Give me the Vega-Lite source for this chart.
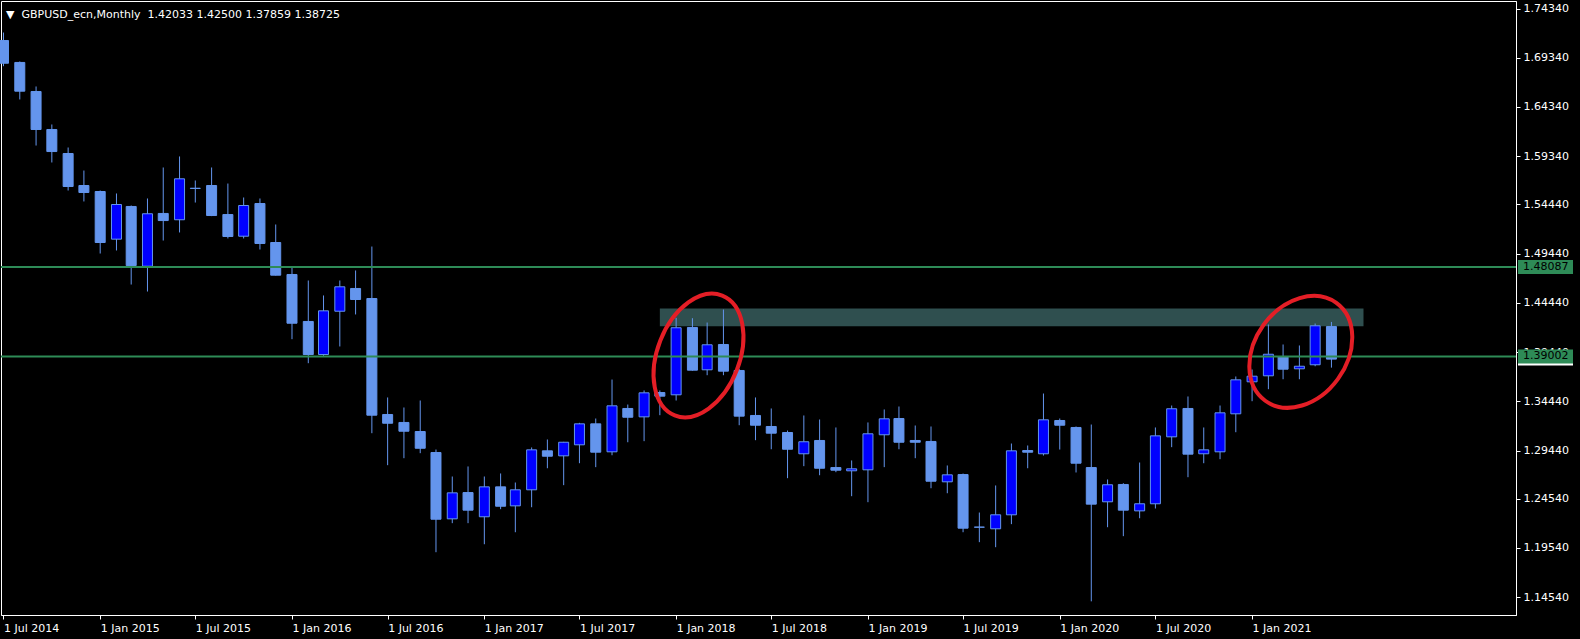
{
  "$schema": "https://vega.github.io/schema/vega-lite/v6.json",
  "width": 1515,
  "height": 614,
  "autosize": {"type": "none"},
  "padding": {"left": 1, "top": 1, "right": 64, "bottom": 24},
  "background": "#000000",
  "title": {
    "text": "▼ \u00a0GBPUSD_ecn,Monthly \u00a01.42033 1.42500 1.37859 1.38725",
    "anchor": "start", "frame": "group", "orient": "top", "offset": 0,
    "dx": 5, "dy": 28, "baseline": "alphabetic",
    "font": "DejaVu Sans", "fontSize": 11, "fontWeight": "normal", "color": "#ffffff"
  },
  "config": {
    "view": {"stroke": "#ffffff", "strokeWidth": 1},
    "axis": {"labelColor": "#ffffff", "tickColor": "#ffffff", "domainColor": "#ffffff", "labelFont": "DejaVu Sans", "labelFontSize": 11, "grid": false, "title": null, "labelOverlap": false, "labelFlush": false}
  },
  "datasets": {
    "candles": [
      {"date": "2014-07-01", "open": 1.7109, "high": 1.7190, "low": 1.6848, "close": 1.6878},
      {"date": "2014-08-01", "open": 1.6886, "high": 1.6896, "low": 1.6510, "close": 1.6594},
      {"date": "2014-09-01", "open": 1.6591, "high": 1.6642, "low": 1.6042, "close": 1.6205},
      {"date": "2014-10-01", "open": 1.6205, "high": 1.6256, "low": 1.5870, "close": 1.5981},
      {"date": "2014-11-01", "open": 1.5961, "high": 1.6022, "low": 1.5585, "close": 1.5626},
      {"date": "2014-12-01", "open": 1.5636, "high": 1.5788, "low": 1.5474, "close": 1.5565},
      {"date": "2015-01-01", "open": 1.5575, "high": 1.5585, "low": 1.4945, "close": 1.5057},
      {"date": "2015-02-01", "open": 1.5091, "high": 1.5555, "low": 1.4976, "close": 1.5443},
      {"date": "2015-03-01", "open": 1.5423, "high": 1.5433, "low": 1.4630, "close": 1.4823},
      {"date": "2015-04-01", "open": 1.4816, "high": 1.5504, "low": 1.4559, "close": 1.5349},
      {"date": "2015-05-01", "open": 1.5352, "high": 1.5819, "low": 1.5077, "close": 1.5280},
      {"date": "2015-06-01", "open": 1.5288, "high": 1.5931, "low": 1.5159, "close": 1.5704},
      {"date": "2015-07-01", "open": 1.5608, "high": 1.5687, "low": 1.5463, "close": 1.5606},
      {"date": "2015-08-01", "open": 1.5636, "high": 1.5819, "low": 1.5325, "close": 1.5331},
      {"date": "2015-09-01", "open": 1.5341, "high": 1.5656, "low": 1.5098, "close": 1.5118},
      {"date": "2015-10-01", "open": 1.5121, "high": 1.5514, "low": 1.5098, "close": 1.5433},
      {"date": "2015-11-01", "open": 1.5453, "high": 1.5504, "low": 1.4986, "close": 1.5047},
      {"date": "2015-12-01", "open": 1.5057, "high": 1.5240, "low": 1.4722, "close": 1.4725},
      {"date": "2016-01-01", "open": 1.4732, "high": 1.4806, "low": 1.4075, "close": 1.4237},
      {"date": "2016-02-01", "open": 1.4255, "high": 1.4671, "low": 1.3831, "close": 1.3919},
      {"date": "2016-03-01", "open": 1.3919, "high": 1.4519, "low": 1.3905, "close": 1.4363},
      {"date": "2016-04-01", "open": 1.4359, "high": 1.4671, "low": 1.4001, "close": 1.4607},
      {"date": "2016-05-01", "open": 1.4590, "high": 1.4773, "low": 1.4326, "close": 1.4478},
      {"date": "2016-06-01", "open": 1.4488, "high": 1.5016, "low": 1.3120, "close": 1.3303},
      {"date": "2016-07-01", "open": 1.3310, "high": 1.3483, "low": 1.2795, "close": 1.3221},
      {"date": "2016-08-01", "open": 1.3229, "high": 1.3381, "low": 1.2866, "close": 1.3140},
      {"date": "2016-09-01", "open": 1.3137, "high": 1.3452, "low": 1.2917, "close": 1.2967},
      {"date": "2016-10-01", "open": 1.2924, "high": 1.2954, "low": 1.1911, "close": 1.2246},
      {"date": "2016-11-01", "open": 1.2250, "high": 1.2680, "low": 1.2206, "close": 1.2514},
      {"date": "2016-12-01", "open": 1.2517, "high": 1.2782, "low": 1.2206, "close": 1.2338},
      {"date": "2017-01-01", "open": 1.2271, "high": 1.2680, "low": 1.1992, "close": 1.2575},
      {"date": "2017-02-01", "open": 1.2575, "high": 1.2711, "low": 1.2348, "close": 1.2378},
      {"date": "2017-03-01", "open": 1.2382, "high": 1.2619, "low": 1.2114, "close": 1.2545},
      {"date": "2017-04-01", "open": 1.2545, "high": 1.2975, "low": 1.2368, "close": 1.2951},
      {"date": "2017-05-01", "open": 1.2941, "high": 1.3056, "low": 1.2764, "close": 1.2886},
      {"date": "2017-06-01", "open": 1.2890, "high": 1.3032, "low": 1.2592, "close": 1.3028},
      {"date": "2017-07-01", "open": 1.3002, "high": 1.3225, "low": 1.2815, "close": 1.3215},
      {"date": "2017-08-01", "open": 1.3215, "high": 1.3269, "low": 1.2775, "close": 1.2927},
      {"date": "2017-09-01", "open": 1.2931, "high": 1.3665, "low": 1.2896, "close": 1.3398},
      {"date": "2017-10-01", "open": 1.3371, "high": 1.3411, "low": 1.3028, "close": 1.3282},
      {"date": "2017-11-01", "open": 1.3286, "high": 1.3554, "low": 1.3039, "close": 1.3530},
      {"date": "2017-12-01", "open": 1.3533, "high": 1.3554, "low": 1.3303, "close": 1.3496},
      {"date": "2018-01-01", "open": 1.3510, "high": 1.4292, "low": 1.3452, "close": 1.4191},
      {"date": "2018-02-01", "open": 1.4194, "high": 1.4288, "low": 1.3755, "close": 1.3760},
      {"date": "2018-03-01", "open": 1.3764, "high": 1.4244, "low": 1.3709, "close": 1.4018},
      {"date": "2018-04-01", "open": 1.4021, "high": 1.4376, "low": 1.3709, "close": 1.3750},
      {"date": "2018-05-01", "open": 1.3757, "high": 1.3774, "low": 1.3201, "close": 1.3293},
      {"date": "2018-06-01", "open": 1.3300, "high": 1.3483, "low": 1.3049, "close": 1.3201},
      {"date": "2018-07-01", "open": 1.3188, "high": 1.3371, "low": 1.2957, "close": 1.3120},
      {"date": "2018-08-01", "open": 1.3127, "high": 1.3147, "low": 1.2663, "close": 1.2957},
      {"date": "2018-09-01", "open": 1.2911, "high": 1.3300, "low": 1.2785, "close": 1.3033},
      {"date": "2018-10-01", "open": 1.3046, "high": 1.3259, "low": 1.2693, "close": 1.2764},
      {"date": "2018-11-01", "open": 1.2771, "high": 1.3178, "low": 1.2724, "close": 1.2744},
      {"date": "2018-12-01", "open": 1.2738, "high": 1.2843, "low": 1.2480, "close": 1.2758},
      {"date": "2019-01-01", "open": 1.2748, "high": 1.3229, "low": 1.2419, "close": 1.3114},
      {"date": "2019-02-01", "open": 1.3104, "high": 1.3361, "low": 1.2775, "close": 1.3266},
      {"date": "2019-03-01", "open": 1.3269, "high": 1.3391, "low": 1.2957, "close": 1.3028},
      {"date": "2019-04-01", "open": 1.3046, "high": 1.3198, "low": 1.2866, "close": 1.3028},
      {"date": "2019-05-01", "open": 1.3036, "high": 1.3188, "low": 1.2561, "close": 1.2632},
      {"date": "2019-06-01", "open": 1.2626, "high": 1.2792, "low": 1.2510, "close": 1.2697},
      {"date": "2019-07-01", "open": 1.2700, "high": 1.2710, "low": 1.2114, "close": 1.2155},
      {"date": "2019-08-01", "open": 1.2166, "high": 1.2314, "low": 1.2013, "close": 1.2165},
      {"date": "2019-09-01", "open": 1.2149, "high": 1.2589, "low": 1.1962, "close": 1.2291},
      {"date": "2019-10-01", "open": 1.2291, "high": 1.3015, "low": 1.2196, "close": 1.2941},
      {"date": "2019-11-01", "open": 1.2944, "high": 1.2995, "low": 1.2764, "close": 1.2927},
      {"date": "2019-12-01", "open": 1.2911, "high": 1.3523, "low": 1.2893, "close": 1.3256},
      {"date": "2020-01-01", "open": 1.3249, "high": 1.3269, "low": 1.2954, "close": 1.3201},
      {"date": "2020-02-01", "open": 1.3178, "high": 1.3188, "low": 1.2721, "close": 1.2815},
      {"date": "2020-03-01", "open": 1.2771, "high": 1.3208, "low": 1.1412, "close": 1.2399},
      {"date": "2020-04-01", "open": 1.2423, "high": 1.2650, "low": 1.2165, "close": 1.2596},
      {"date": "2020-05-01", "open": 1.2599, "high": 1.2612, "low": 1.2074, "close": 1.2338},
      {"date": "2020-06-01", "open": 1.2331, "high": 1.2822, "low": 1.2256, "close": 1.2403},
      {"date": "2020-07-01", "open": 1.2403, "high": 1.3178, "low": 1.2355, "close": 1.3093},
      {"date": "2020-08-01", "open": 1.3083, "high": 1.3401, "low": 1.2978, "close": 1.3368},
      {"date": "2020-09-01", "open": 1.3371, "high": 1.3493, "low": 1.2673, "close": 1.2907},
      {"date": "2020-10-01", "open": 1.2911, "high": 1.3178, "low": 1.2815, "close": 1.2951},
      {"date": "2020-11-01", "open": 1.2931, "high": 1.3401, "low": 1.2856, "close": 1.3327},
      {"date": "2020-12-01", "open": 1.3317, "high": 1.3696, "low": 1.3130, "close": 1.3662},
      {"date": "2021-01-01", "open": 1.3642, "high": 1.3767, "low": 1.3445, "close": 1.3699},
      {"date": "2021-02-01", "open": 1.3703, "high": 1.4224, "low": 1.3567, "close": 1.3922},
      {"date": "2021-03-01", "open": 1.3899, "high": 1.4021, "low": 1.3668, "close": 1.3770},
      {"date": "2021-04-01", "open": 1.3774, "high": 1.4011, "low": 1.3668, "close": 1.3800},
      {"date": "2021-05-01", "open": 1.3815, "high": 1.4234, "low": 1.3800, "close": 1.4211},
      {"date": "2021-06-01", "open": 1.42033, "high": 1.42500, "low": 1.37859, "close": 1.38725}
    ],
    "levels": [
      {"price": 1.48087},
      {"price": 1.39002}
    ],
    "bid": [
      {"price": 1.38725}
    ],
    "zone": [
      {"start": "2017-12-01", "end": "2021-08-01", "low": 1.42068, "high": 1.43866}
    ],
    "circles": [
      {"id": "a", "date": "2018-02-12T13:00:00Z", "price": 1.39092},
      {"id": "b", "date": "2021-04-03T17:00:00Z", "price": 1.39467}
    ]
  },
  "layer": [
    {
      "data": {"name": "zone"},
      "mark": {"type": "rect", "color": "#2f4f4f"},
      "encoding": {
        "x": {
          "field": "start", "type": "temporal",
          "scale": {"type": "utc", "padding": 0, "domain": [
            {"year": 2014, "month": "jun", "date": 26, "hours": 6, "utc": true},
            {"year": 2022, "month": "may", "date": 18, "hours": 5, "utc": true}
          ]},
          "axis": {
            "values": [
              {"year": 2014, "month": "jul", "date": 1, "utc": true},
              {"year": 2015, "month": "jan", "date": 1, "utc": true},
              {"year": 2015, "month": "jul", "date": 1, "utc": true},
              {"year": 2016, "month": "jan", "date": 1, "utc": true},
              {"year": 2016, "month": "jul", "date": 1, "utc": true},
              {"year": 2017, "month": "jan", "date": 1, "utc": true},
              {"year": 2017, "month": "jul", "date": 1, "utc": true},
              {"year": 2018, "month": "jan", "date": 1, "utc": true},
              {"year": 2018, "month": "jul", "date": 1, "utc": true},
              {"year": 2019, "month": "jan", "date": 1, "utc": true},
              {"year": 2019, "month": "jul", "date": 1, "utc": true},
              {"year": 2020, "month": "jan", "date": 1, "utc": true},
              {"year": 2020, "month": "jul", "date": 1, "utc": true},
              {"year": 2021, "month": "jan", "date": 1, "utc": true}
            ],
            "labelExpr": "utcFormat(datum.value, '%-d %b %Y')",
            "labelAlign": "left", "labelBaseline": "top", "labelPadding": 3, "tickSize": 4
          }
        },
        "x2": {"field": "end"},
        "y": {
          "field": "low", "type": "quantitative",
          "scale": {"domain": [1.12732, 1.75102], "zero": false, "nice": false, "padding": 0},
          "axis": {
            "orient": "right",
            "values": [1.1454, 1.1954, 1.2454, 1.2944, 1.3444, 1.3944, 1.4444, 1.4944, 1.5444, 1.5934, 1.6434, 1.6934, 1.7434],
            "format": ".5f", "tickSize": 4, "labelPadding": 3
          }
        },
        "y2": {"field": "high"}
      }
    },
    {
      "data": {"name": "candles"},
      "mark": {"type": "rule", "color": "#6495ed", "strokeWidth": 1},
      "encoding": {
        "x": {"field": "date", "type": "temporal"},
        "y": {"field": "low", "type": "quantitative"},
        "y2": {"field": "high"}
      }
    },
    {
      "data": {"name": "candles"},
      "mark": {"type": "bar", "size": 10, "stroke": "#6495ed", "strokeWidth": 1},
      "encoding": {
        "x": {"field": "date", "type": "temporal"},
        "y": {"field": "open", "type": "quantitative"},
        "y2": {"field": "close"},
        "fill": {"condition": {"test": "datum.close > datum.open", "value": "#0000ff"}, "value": "#6495ed"}
      }
    },
    {
      "data": {"name": "levels"},
      "mark": {"type": "rule", "color": "#2e8b57", "strokeWidth": 2},
      "encoding": {
        "y": {"field": "price", "type": "quantitative"}
      }
    },
    {
      "data": {"name": "bid"},
      "mark": {"type": "rect", "color": "#ffffff", "xOffset": 2, "x2Offset": 57, "yOffset": -6, "y2Offset": 6.5},
      "encoding": {
        "x": {"value": "width"},
        "x2": {"value": "width"},
        "y": {"field": "price", "type": "quantitative"},
        "y2": {"field": "price"}
      }
    },
    {
      "data": {"name": "levels"},
      "mark": {"type": "rect", "color": "#2e8b57", "xOffset": 2, "x2Offset": 57, "yOffset": -7, "y2Offset": 7},
      "encoding": {
        "x": {"value": "width"},
        "x2": {"value": "width"},
        "y": {"field": "price", "type": "quantitative"},
        "y2": {"field": "price"}
      }
    },
    {
      "data": {"name": "levels"},
      "mark": {"type": "text", "align": "left", "baseline": "middle", "dx": 7, "color": "#000000", "font": "DejaVu Sans", "fontSize": 11},
      "encoding": {
        "x": {"value": "width"},
        "y": {"field": "price", "type": "quantitative"},
        "text": {"field": "price", "type": "quantitative", "format": ".5f"}
      }
    },
    {
      "data": {"name": "circles"},
      "transform": [{"filter": "datum.id == 'a'"}],
      "mark": {"type": "point", "shape": "M0,-1A0.636,1,0,1,1,0,1A0.636,1,0,1,1,0,-1Z", "size": 16641, "angle": 21.6, "filled": false, "stroke": "#e41e26", "strokeWidth": 4, "opacity": 1},
      "encoding": {
        "x": {"field": "date", "type": "temporal"},
        "y": {"field": "price", "type": "quantitative"}
      }
    },
    {
      "data": {"name": "circles"},
      "transform": [{"filter": "datum.id == 'b'"}],
      "mark": {"type": "point", "shape": "M0,-1A0.76,1,0,1,1,0,1A0.76,1,0,1,1,0,-1Z", "size": 14641, "angle": 36, "filled": false, "stroke": "#e41e26", "strokeWidth": 4, "opacity": 1},
      "encoding": {
        "x": {"field": "date", "type": "temporal"},
        "y": {"field": "price", "type": "quantitative"}
      }
    }
  ]
}
